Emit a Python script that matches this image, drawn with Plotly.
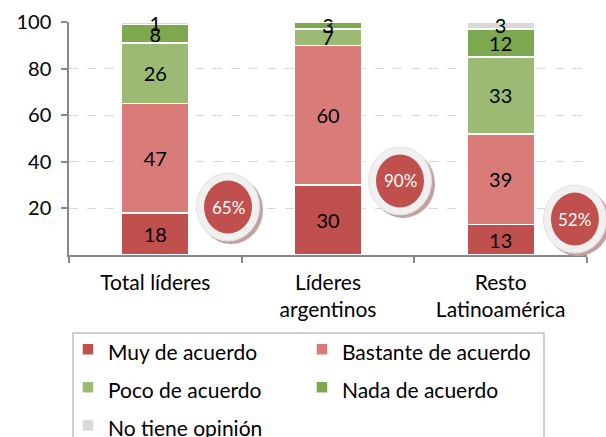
import plotly.graph_objects as go

categories = ["Total líderes", "Líderes<br>argentinos", "Resto<br>Latinoamérica"]
series_names = ["Muy de acuerdo", "Bastante de acuerdo", "Poco de acuerdo", "Nada de acuerdo", "No tiene opinión"]
muy = [18, 30, 13]
bastante = [47, 60, 39]
poco = [26, 7, 33]
nada = [8, 3, 12]
no_opinion = [1, 0, 3]
y_ticks = [20, 40, 60, 80, 100]

colors = ["#c0504d", "#d97b78", "#9bbb75", "#7ea850", "#d9d9d9"]
FONT = "Lato"

xpos = list(range(len(categories)))
fig = go.Figure()
for name, vals, col in zip(series_names, [muy, bastante, poco, nada, no_opinion], colors):
    fig.add_trace(go.Bar(
        x=xpos, y=vals, name=f"<span style='font-size:21px'>{name}</span>",
        marker=dict(color=col, line=dict(color="white", width=1.5)),
        width=0.39,
        text=[str(v) if v else "" for v in vals],
        textposition="inside", insidetextanchor="middle", textangle=0,
        constraintext="none", cliponaxis=False,
        insidetextfont=dict(color="black", size=20, family=FONT),
        hoverinfo="skip",
    ))

# bubbles with share "de acuerdo" (Muy + Bastante); anchored in data units,
# converted to paper fractions so the bubble may overflow the plot area
bub_x = [0.421, 1.417, 2.43]
bub_y = [20.6, 31.8, 15.4]
x_range = [-0.5, 2.5]
y_range = [0, 100]
shapes = []
annotations = []
for bx, by, a, b in zip(bub_x, bub_y, muy, bastante):
    px = (bx - x_range[0]) / (x_range[1] - x_range[0])
    py = (by - y_range[0]) / (y_range[1] - y_range[0])
    common = dict(type="circle", xref="paper", yref="paper", xsizemode="pixel", ysizemode="pixel",
                  xanchor=px, yanchor=py, layer="above")
    shapes.append(dict(common, x0=-29, x1=35, y0=-37, y1=31, fillcolor="#c4a0a0", line=dict(width=0)))
    shapes.append(dict(common, x0=-31.5, x1=31.5, y0=-34, y1=34, fillcolor="#f0f0f0", line=dict(color="#e2e2e2", width=1)))
    shapes.append(dict(common, x0=-24, x1=24, y0=-26.5, y1=26.5, fillcolor="#c0504d", line=dict(width=0)))
    annotations.append(dict(x=bx, y=by, xref="x", yref="y", text=f"{a + b}%", showarrow=False,
                            font=dict(color="white", size=17, family=FONT)))

# legend frame
shapes.append(dict(type="rect", xref="paper", yref="paper", x0=0.0077, x1=0.917, y0=-0.86, y1=-0.3348,
                   line=dict(color="#bfbfbf", width=1.5), fillcolor="rgba(0,0,0,0)", layer="above"))

fig.update_layout(
    width=606, height=437,
    barmode="stack",
    paper_bgcolor="white", plot_bgcolor="white",
    margin=dict(l=69, r=19, t=22, b=182, autoexpand=False),
    font=dict(family=FONT, color="black", size=19),
    shapes=shapes,
    annotations=annotations,
    legend=dict(
        orientation="h", x=-0.002, y=-0.301, xanchor="left", yanchor="top",
        traceorder="normal", entrywidth=189, itemwidth=30,
        font=dict(size=27, family=FONT, color="black"),
        borderwidth=0, bgcolor="rgba(0,0,0,0)",
    ),
    xaxis=dict(
        range=x_range, tickvals=xpos, ticktext=categories, ticks="",
        showline=True, linecolor="#888888", linewidth=1.5, showgrid=False, zeroline=False,
        tickfont=dict(size=21, family=FONT), ticklabelstandoff=8,
        minor=dict(tickmode="array", tickvals=[-0.5, 0.5, 1.5, 2.5], ticks="outside",
                   ticklen=6, tickcolor="#888888", tickwidth=1.5, showgrid=False),
    ),
    yaxis=dict(
        range=y_range, tickvals=y_ticks, ticks="outside", ticklen=6, tickcolor="#888888",
        tickwidth=1.5, showline=True, linecolor="#888888", linewidth=1.5,
        showgrid=True, gridcolor="#d9d9d9", griddash="dash", gridwidth=1.3, zeroline=False,
        tickfont=dict(size=20, family=FONT), ticklabelstandoff=6,
    ),
)

fig.write_html("out.html", config={"displayModeBar": False},
               post_script="document.body.style.margin='0px';")
